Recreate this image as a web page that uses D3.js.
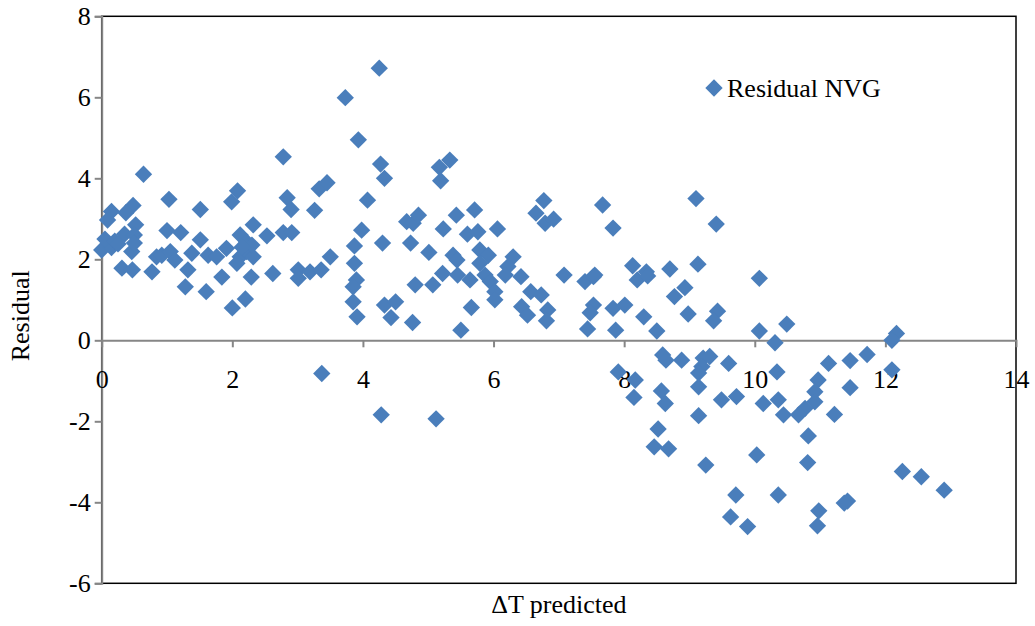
<!DOCTYPE html>
<html>
<head>
<meta charset="utf-8">
<script src="https://cdn.jsdelivr.net/npm/d3@7"></script>
<style>
  html, body { margin: 0; padding: 0; background: #fff; }
  svg { display: block; }
  text { font-family: "Liberation Serif", "Times New Roman", serif; fill: #000; }
</style>
</head>
<body>
<svg id="chart" width="1035" height="626"></svg>
<script>
// Predicted temperature rise (x) and residual (y) for each observation
const predictedDT = [
  2.78, 0.64, 1.03, 1.51, 2.08, 1.99, 2.84, 2.90, 3.33, 3.45,
  3.26, 0.48, 0.37, 0.15, 0.09, 0.52, 1.00, 1.21, 2.32, 2.53,
  2.78, 2.91, 1.51, 2.12, 2.22, 0.00, 0.15, 0.46, 0.84, 0.92,
  1.05, 1.12, 1.38, 1.63, 1.76, 1.91, 2.12, 2.22, 2.32, 2.07,
  0.31, 0.47, 0.77, 1.32, 1.28, 1.60, 1.84, 2.29, 2.62, 2.00,
  2.20, 3.01, 3.01, 3.19, 3.36, 3.50, 3.37, 4.25, 3.73, 3.93,
  4.27, 4.33, 4.07, 5.17, 5.33, 5.19, 6.77, 6.65, 6.79, 6.92,
  3.98, 4.67, 4.77, 4.85, 5.23, 5.43, 5.71, 5.60, 5.76, 6.06,
  3.87, 4.30, 4.73, 7.67, 7.83, 9.10, 9.41, 3.87, 3.90, 3.85,
  3.85, 3.91, 4.33, 4.50, 4.43, 4.76, 4.80, 5.07, 5.01, 5.22,
  5.38, 5.44, 5.45, 5.64, 5.66, 5.50, 5.79, 5.92, 5.79, 5.87,
  5.95, 6.02, 6.02, 6.30, 6.22, 6.18, 6.42, 6.57, 6.73, 6.43,
  6.52, 6.83, 6.81, 7.08, 4.28, 5.12, 7.40, 7.53, 7.55, 8.13,
  8.20, 8.34, 8.36, 8.70, 9.13, 8.93, 8.77, 10.07, 7.53, 7.48,
  7.83, 8.01, 7.44, 7.87, 8.30, 8.50, 8.98, 9.43, 9.37, 10.07,
  10.49, 10.31, 8.59, 8.64, 8.88, 9.21, 9.31, 9.19, 9.14, 9.60,
  7.91, 8.17, 8.15, 9.14, 8.57, 8.63, 9.49, 9.72, 10.34, 10.13,
  10.36, 10.44, 9.14, 8.52, 8.46, 8.68, 12.17, 12.10, 12.10, 11.72,
  11.46, 11.13, 11.46, 10.97, 10.92, 10.92, 10.77, 10.67, 11.22, 10.82,
  10.81, 12.26, 12.55, 12.90, 11.42, 11.37, 10.98, 10.96, 9.25, 10.03,
  9.71, 10.36, 9.63, 9.89, 0.05, 0.20, 0.35, 0.50, 0.50, 0.25,
  2.30, 2.15
];
const residualNVG = [
  4.53, 4.10, 3.48, 3.23, 3.69, 3.42, 3.52, 3.23, 3.74, 3.89,
  3.21, 3.33, 3.15, 3.18, 2.97, 2.85, 2.71, 2.66, 2.85, 2.58,
  2.66, 2.66, 2.48, 2.60, 2.43, 2.23, 2.29, 2.19, 2.06, 2.10,
  2.19, 1.98, 2.15, 2.10, 2.06, 2.27, 2.06, 2.19, 2.06, 1.90,
  1.78, 1.74, 1.69, 1.74, 1.32, 1.20, 1.56, 1.56, 1.65, 0.80,
  1.02, 1.74, 1.53, 1.69, 1.74, 2.06, -0.82, 6.72, 5.99, 4.95,
  4.35, 4.00, 3.46, 4.27, 4.45, 3.94, 3.45, 3.14, 2.89, 2.99,
  2.72, 2.93, 2.89, 3.09, 2.75, 3.09, 3.22, 2.62, 2.68, 2.75,
  2.33, 2.40, 2.40, 3.34, 2.77, 3.50, 2.87, 1.90, 1.49, 1.32,
  0.95, 0.58, 0.87, 0.95, 0.56, 0.44, 1.37, 1.37, 2.17, 1.65,
  2.10, 1.98, 1.61, 1.49, 0.81, 0.25, 2.23, 2.10, 1.90, 1.61,
  1.45, 1.20, 1.00, 2.06, 1.82, 1.61, 1.57, 1.20, 1.12, 0.83,
  0.62, 0.75, 0.48, 1.61, -1.84, -1.94, 1.45, 1.57, 1.61, 1.84,
  1.49, 1.69, 1.59, 1.76, 1.88, 1.30, 1.08, 1.53, 0.87, 0.68,
  0.79, 0.87, 0.28, 0.25, 0.58, 0.23, 0.65, 0.72, 0.48, 0.23,
  0.40, -0.06, -0.36, -0.49, -0.49, -0.44, -0.40, -0.65, -0.81, -0.57,
  -0.78, -0.98, -1.41, -1.15, -1.25, -1.56, -1.47, -1.39, -0.78, -1.56,
  -1.47, -1.84, -1.86, -2.19, -2.63, -2.68, 0.17, 0.00, -0.73, -0.35,
  -0.50, -0.57, -1.17, -0.98, -1.27, -1.52, -1.68, -1.84, -1.83, -2.36,
  -3.02, -3.24, -3.37, -3.70, -3.97, -4.02, -4.21, -4.58, -3.08, -2.83,
  -3.82, -3.82, -4.36, -4.60, 2.50, 2.45, 2.62, 2.60, 2.40, 2.38,
  2.35, 2.30
];
const xTicks = [0, 2, 4, 6, 8, 10, 12, 14];
const yTicks = [-6, -4, -2, 0, 2, 4, 6, 8];
const seriesName = "Residual NVG";
const xTitle = "\u0394T predicted";
const yTitle = "Residual";

const svg = d3.select("#chart");
const W = 1035, H = 626;
const plot = { left: 101.7, right: 1016, top: 16.3, bottom: 583.3 };
const fontSize = 26;
const markerColor = "#4a7ebb";
const axisGray = "#868686";

svg.append("rect").attr("width", W).attr("height", H).attr("fill", "#fff");

const x = d3.scaleLinear().domain([0, 14]).range([plot.left, plot.right]);
const y = d3.scaleLinear().domain([-6, 8]).range([plot.bottom, plot.top]);

// plot-area frame
svg.append("rect")
  .attr("x", plot.left).attr("y", plot.top)
  .attr("width", plot.right - plot.left).attr("height", plot.bottom - plot.top)
  .attr("fill", "none").attr("stroke", "#000").attr("stroke-width", 1.5);

// vertical axis on the left edge
const yAxis = svg.append("g")
  .attr("transform", `translate(${plot.left},0)`)
  .call(d3.axisLeft(y).tickValues(yTicks).tickFormat(d => String(d)).tickSize(7).tickPadding(4));
yAxis.select(".domain").attr("stroke", axisGray).attr("stroke-width", 2);
yAxis.selectAll(".tick line").attr("stroke", axisGray).attr("stroke-width", 2);
yAxis.selectAll(".tick text")
  .attr("font-size", fontSize).attr("font-family", "Liberation Serif, serif")
  .attr("fill", "#000").attr("dy", "0.33em");

// horizontal axis crossing at residual = 0
const xAxis = svg.append("g")
  .attr("transform", `translate(0,${y(0)})`)
  .call(d3.axisBottom(x).tickValues(xTicks).tickFormat(d => String(d)).tickSize(7).tickPadding(22));
xAxis.select(".domain").attr("stroke", axisGray).attr("stroke-width", 2);
xAxis.selectAll(".tick line").attr("stroke", axisGray).attr("stroke-width", 2)
  .attr("opacity", d => (d === 0 || d === 14) ? 0 : 1);
xAxis.selectAll(".tick text")
  .attr("font-size", fontSize).attr("font-family", "Liberation Serif, serif")
  .attr("fill", "#000");

// axis titles
svg.append("text")
  .attr("x", (plot.left + plot.right) / 2).attr("y", 613)
  .attr("text-anchor", "middle").attr("font-size", fontSize)
  .text(xTitle);
svg.append("text")
  .attr("transform", `translate(29,${(plot.top + plot.bottom) / 2 + 16}) rotate(-90)`)
  .attr("text-anchor", "middle").attr("font-size", fontSize)
  .text(yTitle);

// data markers (diamonds)
const diamond = d3.symbol().type(d3.symbolSquare).size(150);
const points = predictedDT.map((v, i) => ({ x: v, y: residualNVG[i] }));
svg.append("g").selectAll("path")
  .data(points)
  .join("path")
  .attr("d", diamond)
  .attr("transform", d => `translate(${x(d.x)},${y(d.y)}) rotate(45)`)
  .attr("fill", markerColor);

// legend
const legend = svg.append("g").attr("transform", "translate(714,88)");
legend.append("path").attr("d", diamond).attr("transform", "rotate(45)").attr("fill", markerColor);
legend.append("text").attr("x", 13).attr("y", 9).attr("font-size", fontSize).text(seriesName);
</script>
</body>
</html>
